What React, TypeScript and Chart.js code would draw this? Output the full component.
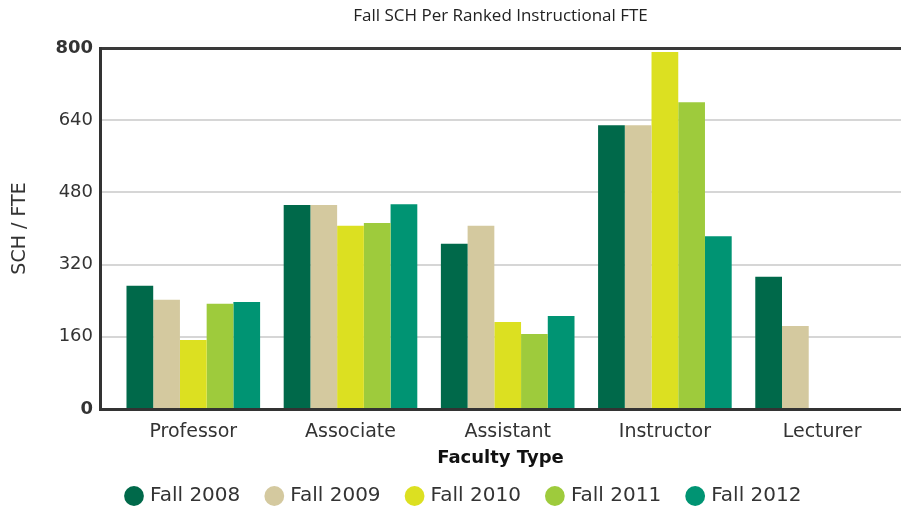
import React, { useEffect, useRef } from "react";
import { Chart, registerables } from "chart.js";

Chart.register(...registerables);

const categories = ["Professor", "Associate", "Assistant", "Instructor", "Lecturer"];
const seriesNames = ["Fall 2008", "Fall 2009", "Fall 2010", "Fall 2011", "Fall 2012"];
const fall2008 = [273, 452, 366, 629, 293];
const fall2009 = [242, 452, 406, 629, 184];
const fall2010 = [153, 406, 193, 791, null];
const fall2011 = [233, 412, 166, 680, null];
const fall2012 = [237, 454, 206, 383, null];
const seriesColors = ["#00694a", "#d4c99f", "#dce021", "#9ecb3c", "#009473"];
const yTicks = [0, 160, 320, 480, 640, 800];

const allSeries = [fall2008, fall2009, fall2010, fall2011, fall2012];

export default function App() {
  const canvasRef = useRef<HTMLCanvasElement | null>(null);

  useEffect(() => {
    const canvas = canvasRef.current;
    if (!canvas) return;
    const datasets = allSeries.map((vals, si) => ({
      label: seriesNames[si],
      data: vals.map((v, i) => ({ x: i, y: v })),
      backgroundColor: seriesColors[si],
      borderWidth: 0,
      categoryPercentage: 0.85,
      barPercentage: 1.0,
    }));
    const chart = new Chart(canvas, {
      type: "bar",
      data: { datasets },
      options: {
        animation: false,
        responsive: false,
        layout: { padding: { top: 0, left: 0, right: 0, bottom: -4 } },
        plugins: {
          title: {
            display: true,
            text: "Fall SCH Per Ranked Instructional FTE",
            fullSize: false,
            color: "#222",
            font: { family: "Open Sans", size: 17, weight: "normal" },
            padding: { top: 5.8, bottom: 21.8 },
          },
          legend: {
            display: true,
            position: "bottom",
            align: "start",
            fullSize: false,
            labels: {
              usePointStyle: true,
              pointStyle: "circle",
              boxWidth: 12,
              boxHeight: 14,
              padding: 28,
              color: "#333",
              font: { family: "DejaVu Sans", size: 20 },
            },
          },
          tooltip: { enabled: false },
        },
        scales: {
          x: {
            type: "linear",
            offset: false,
            min: -0.5935,
            max: 4.502,
            bounds: "data",
            afterBuildTicks: (scale: any) => {
              scale.ticks = categories.map((_, i) => ({ value: i }));
            },
            grid: { display: false, drawTicks: false, offset: false },
            border: { display: true, color: "#333", width: 3 },
            ticks: {
              autoSkip: false,
              maxRotation: 0,
              padding: 11.6,
              color: "#333",
              font: { family: "DejaVu Sans", size: 19 },
              callback: (value: any) => categories[value as number] ?? "",
            },
            title: {
              display: true,
              text: "Faculty Type",
              color: "#111",
              font: { family: "DejaVu Sans", size: 18, weight: "bold" },
              padding: { top: -7.8, bottom: -10.8 },
            },
          },
          y: {
            min: yTicks[0],
            max: yTicks[yTicks.length - 1],
            afterFit: (scale: any) => {
              scale.width = 100;
            },
            afterBuildTicks: (scale: any) => {
              scale.ticks = yTicks.map((v) => ({ value: v }));
            },
            grid: {
              drawTicks: false,
              color: (ctx: any) => (ctx.tick && ctx.tick.value === 800 ? "#3a3a3a" : "#d6d6d6"),
              lineWidth: (ctx: any) => (ctx.tick && ctx.tick.value === 800 ? 3 : 2),
            },
            border: { display: true, color: "#333", width: 3 },
            ticks: {
              padding: 7,
              color: "#333",
              font: (ctx: any) => ({
                family: "DejaVu Sans",
                size: 18,
                weight: ctx.tick && (ctx.tick.value === 800 || ctx.tick.value === 0) ? "bold" : "normal",
              }),
            },
            title: {
              display: true,
              text: "SCH / FTE",
              color: "#333",
              font: { family: "DejaVu Sans", size: 19 },
              padding: { top: 9, bottom: 4 },
            },
          },
        },
      },
    } as any);
    return () => chart.destroy();
  }, []);

  return (
    <div style={{ position: "absolute", left: 0, top: 0, width: 901, height: 512 }}>
      <canvas ref={canvasRef} width={901} height={512} style={{ display: "block" }} />
    </div>
  );
}
